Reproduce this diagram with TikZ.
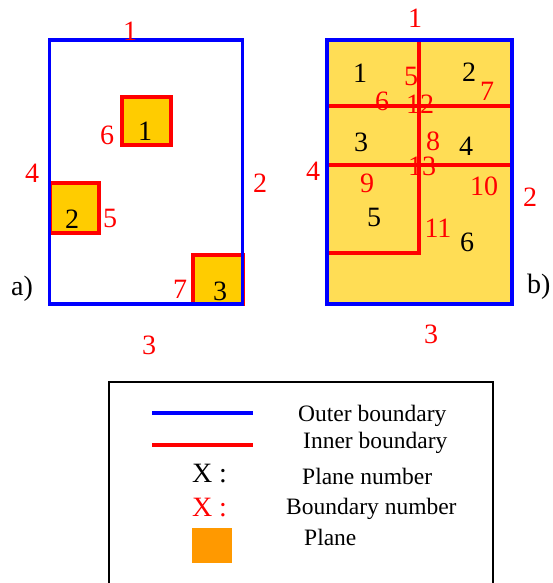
\documentclass[tikz,border=0pt]{standalone}
\usepackage{fontspec}
\setmainfont{Liberation Serif}
\usepackage{xcolor}
\usepackage{tikz}

\definecolor{outerblue}{HTML}{0000FF}
\definecolor{innerred}{HTML}{FF0000}
\definecolor{planegold}{HTML}{FFCC00}
\definecolor{planelight}{HTML}{FFDD55}
\definecolor{planeorange}{HTML}{FF9900}

\begin{document}
\begin{tikzpicture}[
  x=1pt,y=-1pt,
  outer/.style={draw=outerblue,line width=3.5pt},
  inner/.style={draw=innerred,line width=4pt},
  plane/.style={fill=planegold,draw=innerred,line width=3.5pt},
  bnum/.style={text=innerred,inner sep=0pt,font=\fontsize{28}{31}\selectfont},
  pnum/.style={text=black,inner sep=0pt,font=\fontsize{28}{31}\selectfont},
  legtext/.style={anchor=west,inner sep=0pt,font=\fontsize{23.5}{26}\selectfont}
]
\useasboundingbox (0,0) rectangle (552,583);

% a) separate planes
\draw[plane] (122,97) rectangle (171,145);
\draw[plane] (50,183) rectangle (99,233);
\draw[plane] (193,255) rectangle (243,304);
\draw[outer] (49.5,40) rectangle (242.5,304);
\node[bnum] (a1) at (130,31) {1};
\node[bnum] (a2) at (260,183) {2};
\node[bnum] (a3) at (149,345) {3};
\node[bnum] (a4) at (32,173) {4};
\node[bnum] (a5) at (110,218) {5};
\node[bnum] (a6) at (107,135) {6};
\node[bnum] (a7) at (180,289) {7};
\node[pnum] (ap1) at (145,131) {1};
\node[pnum] (ap2) at (72,219) {2};
\node[pnum] (ap3) at (220,291) {3};
\node[pnum,anchor=base west] (alab) at (11,295) {a)};

% b) split planes
\fill[planelight] (327,40) rectangle (512,304);
\draw[inner] (419,40) -- (419,253) -- (327,253);
\draw[inner] (327,106) -- (512,106);
\draw[inner] (327,165) -- (512,165);
\draw[outer] (327,40) rectangle (512,304);
\node[bnum] (b1) at (415,18) {1};
\node[bnum] (b2) at (530,197) {2};
\node[bnum] (b3) at (431,334) {3};
\node[bnum] (b4) at (313,171) {4};
\node[bnum] (b5) at (411,76) {5};
\node[bnum] (b6) at (382,101) {6};
\node[bnum] (b7) at (487,91) {7};
\node[bnum] (b8) at (433,141) {8};
\node[bnum] (b9) at (367,183) {9};
\node[bnum] (b10) at (484,186) {10};
\node[bnum] (b11) at (438,228) {11};
\node[bnum] (b12) at (420,104) {12};
\node[bnum] (b13) at (422,166) {13};
\node[pnum] (bp1) at (360,73) {1};
\node[pnum] (bp2) at (469,72) {2};
\node[pnum] (bp3) at (361,142) {3};
\node[pnum] (bp4) at (466,146) {4};
\node[pnum] (bp5) at (374,217) {5};
\node[pnum] (bp6) at (467,242) {6};
\node[pnum,anchor=base west] (blab) at (527,293) {b)};

% legend
\draw[line width=2pt] (109,583) -- (109,382) -- (493,382) -- (493,583);
\draw[draw=outerblue,line width=4pt] (152,413) -- (253,413);
\draw[draw=innerred,line width=4pt] (152,445) -- (253,445);
\node[pnum] (lx1) at (209.5,474) {X :};
\node[bnum] (lx2) at (209.5,507.5) {X :};
\fill[planeorange] (192,528) rectangle (232,563);
\node[legtext] (lt1) at (298,415.5) {Outer boundary};
\node[legtext] (lt2) at (303,443) {Inner boundary};
\node[legtext] (lt3) at (302,476.5) {Plane number};
\node[legtext] (lt4) at (286,509) {Boundary number};
\node[legtext] (lt5) at (304,537) {Plane};
\end{tikzpicture}
\end{document}
